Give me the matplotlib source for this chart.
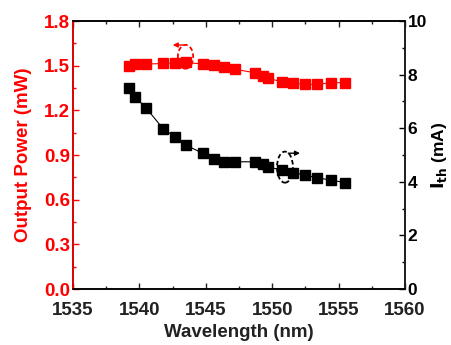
import matplotlib
matplotlib.use('Agg')
import matplotlib.pyplot as plt
from matplotlib.patches import Ellipse

# Data
wavelength = [1539.2, 1539.7, 1540.5, 1541.8, 1542.7, 1543.5, 1544.8, 1545.6, 1546.4, 1547.2,
              1548.7, 1549.3, 1549.7, 1550.7, 1551.6, 1552.5, 1553.4, 1554.4, 1555.5]
power = [1.498, 1.509, 1.511, 1.515, 1.520, 1.522, 1.511, 1.505, 1.493, 1.476,
         1.453, 1.431, 1.415, 1.393, 1.382, 1.375, 1.375, 1.386, 1.386]
ith = [7.49, 7.15, 6.76, 5.97, 5.68, 5.37, 5.06, 4.84, 4.75, 4.75,
       4.75, 4.65, 4.56, 4.44, 4.35, 4.25, 4.15, 4.07, 3.97]

plt.rcParams['font.family'] = ['Liberation Sans', 'DejaVu Sans']
plt.rcParams['font.weight'] = 'bold'
plt.rcParams['mathtext.default'] = 'bf'

fig = plt.figure(figsize=(4.51, 3.45), dpi=100)
ax = fig.add_axes([0.162, 0.162, 0.736, 0.777])
ax2 = ax.twinx()

red = '#ff0000'
ax.plot(wavelength, power, '-s', color=red, ms=6.5, lw=0.8)
ax2.plot(wavelength, ith, '-s', color='black', ms=6.5, lw=0.8)

ax.set_xlim(1535, 1560)
ax.set_ylim(0, 1.8)
ax2.set_ylim(0, 10)
ax.set_xticks(range(1535, 1561, 5))
ax.set_xticks([1537.5 + 5 * i for i in range(5)], minor=True)
ax.set_yticks([0.0, 0.3, 0.6, 0.9, 1.2, 1.5, 1.8])
ax.set_yticks([0.15 + 0.3 * i for i in range(6)], minor=True)
ax2.set_yticks(range(0, 11, 2))
ax2.set_yticks(range(1, 10, 2), minor=True)

fs = 13.5
ax.tick_params(axis='x', which='both', direction='in', top=True, labelsize=fs, colors='#222222', pad=9)
ax.tick_params(axis='x', which='major', length=4, width=1)
ax.tick_params(axis='x', which='minor', length=2.5, width=1)
ax.tick_params(axis='y', which='both', direction='in', colors=red, labelsize=fs, pad=2)
ax.tick_params(axis='y', which='major', length=4, width=1)
ax.tick_params(axis='y', which='minor', length=2.5, width=1)
ax2.tick_params(axis='y', which='both', direction='in', labelsize=fs - 1, pad=2)
ax2.tick_params(axis='y', which='major', length=4, width=1)
ax2.tick_params(axis='y', which='minor', length=2.5, width=1)
ax.yaxis.set_major_formatter(plt.FuncFormatter(lambda v, p: f'{v:.1f}'))

for s in ['top', 'bottom']:
    ax.spines[s].set_color('#222222')
ax2.spines['left'].set_color(red)
ax2.spines['right'].set_color('#222222')
for a in (ax, ax2):
    for s in a.spines.values():
        s.set_linewidth(1.2)

ax.set_xlabel('Wavelength (nm)', fontsize=fs, fontweight='bold', color='#222222', labelpad=4)
ax.set_ylabel('Output Power (mW)', fontsize=fs, fontweight='bold', color=red, labelpad=9)
ax2.set_ylabel(r'$\mathbf{I_{th}}$ (mA)', fontsize=fs - 1, fontweight='bold', labelpad=1)

# dashed ellipses with arrows
ax.add_patch(Ellipse((1543.47, 1.56), 1.15, 0.16, fill=False, ls=(0, (2.5, 1.5)), ec=red, lw=1.3, zorder=5))
ax.annotate('', xy=(1542.3, 1.639), xytext=(1543.5, 1.639),
            arrowprops=dict(arrowstyle='-|>', color=red, lw=1, mutation_scale=7))
ax2.add_patch(Ellipse((1550.96, 4.55), 1.2, 1.16, fill=False, ls=(0, (2.5, 1.5)), ec='black', lw=1.3, zorder=5))
ax2.annotate('', xy=(1552.3, 5.07), xytext=(1551.0, 5.07),
             arrowprops=dict(arrowstyle='-|>', color='black', lw=1, mutation_scale=7))

fig.savefig('out.png', dpi=100)
